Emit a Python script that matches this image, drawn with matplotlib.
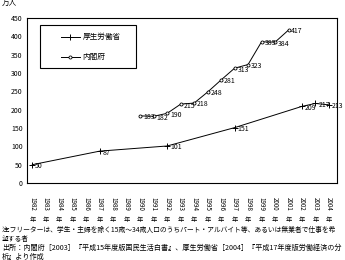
import numpy as np
import matplotlib.pyplot as plt
import matplotlib.transforms as mtransforms
from matplotlib.patches import Rectangle
from matplotlib.lines import Line2D

plt.rcParams['font.family'] = ['Noto Sans CJK JP', 'DejaVu Sans']

# 厚生労働省
mhlw_years = [1982, 1987, 1992, 1997, 2002, 2003, 2004]
mhlw_values = [50, 87, 101, 151, 209, 217, 213]

# 内閣府
cao_years = [1990, 1991, 1992, 1993, 1994, 1995, 1996, 1997, 1998, 1999, 2000, 2001]
cao_values = [183, 182, 190, 215, 218, 248, 281, 313, 323, 385, 384, 417]

years = list(range(1982, 2005))

fig = plt.figure(figsize=(3.45, 2.6), dpi=100)
ax = fig.add_axes([0.078, 0.296, 0.899, 0.635])

ax.plot(mhlw_years, mhlw_values, color='black', lw=0.7, marker='+', ms=4,
        mew=0.7)
ax.plot(cao_years, cao_values, color='black', lw=0.7, marker='o', ms=2.2,
        mfc='white', mew=0.6)

for x, y in zip(mhlw_years, mhlw_values):
    ax.annotate(str(y), (x, y), xytext=(2, -1), textcoords='offset points',
                fontsize=5, va='center', ha='left')
for x, y in zip(cao_years, cao_values):
    ax.annotate(str(y), (x, y), xytext=(2, -1), textcoords='offset points',
                fontsize=5, va='center', ha='left')

ax.set_xlim(1981.6, 2004.6)
ax.set_ylim(0, 450)
ax.set_yticks(range(0, 451, 50))
ax.tick_params(axis='y', labelsize=5, length=0, pad=3)
ax.set_xticks(years)
ax.set_xticklabels([str(y) for y in years], rotation=270, fontsize=4.5)
ax.tick_params(axis='x', length=0, pad=10)
for s in ax.spines.values():
    s.set_linewidth(0.8)

# 年 under each vertical year label
trans = mtransforms.blended_transform_factory(ax.transData, ax.transAxes)
for y in years:
    ax.text(y, -0.2, '年', transform=trans, fontsize=4.5, ha='center', va='top')

ax.text(-0.08, 1.09, '万人', transform=ax.transAxes, fontsize=5.5, va='center')

# legend box drawn by hand to match the wide padding
ax.add_patch(Rectangle((0.042, 0.697), 0.31, 0.261, transform=ax.transAxes,
                       fill=False, ec='black', lw=0.8))
ax.add_line(Line2D([0.110, 0.1405, 0.171], [0.887, 0.887, 0.887], transform=ax.transAxes,
                   color='black', lw=0.7, marker='+', ms=4, mew=0.7,
                   markevery=[1]))
ax.add_line(Line2D([0.110, 0.1405, 0.171], [0.762, 0.762, 0.762], transform=ax.transAxes,
                   color='black', lw=0.7, marker='o', ms=2.2, mfc='white',
                   mew=0.6, markevery=[1]))
ax.text(0.18, 0.887, '厚生労働省', transform=ax.transAxes, fontsize=5.5, va='center')
ax.text(0.18, 0.762, '内閣府', transform=ax.transAxes, fontsize=5.5, va='center')

notes = [
    '注:フリーターは、学生・主婦を除く15歳～34歳人口のうちパート・アルバイト等、あるいは無業者で仕事を希',
    '望する者',
    '出所：内閣府［2003］『平成15年度版国民生活白書』、厚生労働省［2004］『平成17年度版労働経済の分',
    '析』より作成',
]
sizes = [4.9, 4.9, 5.1, 5.1]
for i, t in enumerate(notes):
    fig.text(0.006, 1 - (230 + i * 9) / 260, t, fontsize=sizes[i], va='center', ha='left')

fig.savefig('out.png', dpi=100)
